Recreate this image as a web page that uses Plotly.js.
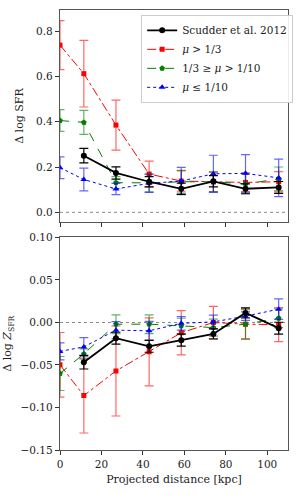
<!DOCTYPE html>
<html><head><meta charset="utf-8">
<script src="https://cdn.plot.ly/plotly-3.0.1.min.js"></script>
<style>body{margin:0;background:#fff}#c{width:300px;height:500px}</style>
</head><body><div id="c"></div>
<script>
// shared x bins (kpc)
const xBins = [0, 11.5, 27, 43, 58.5, 74, 89.5, 105.5];
const xScudder = [11.5, 27, 43, 58.5, 74, 89.5, 105.5];

const seriesNames = ["Scudder et al. 2012", "<i>μ</i> > 1/3", "1/3 ≥ <i>μ</i> > 1/10", "<i>μ</i> ≤ 1/10"];

// top panel: Delta log SFR
const sfrScudder = [0.25, 0.174, 0.135, 0.104, 0.137, 0.104, 0.110];
const sfrScudderErr = [0.032, 0.027, 0.023, 0.025, 0.025, 0.022, 0.026];
const sfrHigh = [0.738, 0.612, 0.385, 0.169, 0.138, 0.134, 0.132, 0.135];
const sfrHighErr = [0.108, 0.147, 0.11, 0.057, 0.045, 0.042, 0.042, 0.045];
const sfrMid = [0.405, 0.397, 0.131, 0.13, 0.135, 0.135, 0.125, 0.148];
const sfrMidErr = [0.048, 0.053, 0.027, 0.04, 0.05, 0.045, 0.043, 0.052];
const sfrLow = [0.197, 0.145, 0.103, 0.128, 0.138, 0.17, 0.172, 0.152];
const sfrLowErr = [0.048, 0.05, 0.025, 0.04, 0.06, 0.082, 0.083, 0.083];

// bottom panel: Delta log Z_SFR
const zScudder = [-0.0467, -0.0185, -0.028, -0.0208, -0.0134, 0.0113, -0.0067];
const zScudderErr = [0.008, 0.007, 0.007, 0.007, 0.006, 0.006, 0.007];
const zHigh = [-0.0498, -0.086, -0.057, -0.0345, -0.012, 0.0, -0.002, -0.0025];
const zHighErr = [0.038, 0.044, 0.053, 0.04, 0.026, 0.019, 0.018, 0.02];
const zMid = [-0.06, -0.037, -0.002, -0.002, -0.004, -0.006, -0.002, 0.005];
const zMidErr = [0.02, 0.006, 0.011, 0.011, 0.009, 0.01, 0.017, 0.011];
const zLow = [-0.034, -0.0287, -0.009, -0.0098, -0.001, 0.0007, 0.0074, 0.0157];
const zLowErr = [0.01, 0.011, 0.01, 0.011, 0.008, 0.008, 0.005, 0.012];

const styles = [
  {color:'#000000', err:'#000000', dash:'solid', sym:'circle', lw:1.8, ms:6},
  {color:'#ff0000', err:'rgba(255,0,0,0.6)', dash:'dashdot', sym:'square', lw:1, ms:5},
  {color:'#008000', err:'rgba(0,128,0,0.6)', dash:'dash', sym:'pentagon', lw:1, ms:6},
  {color:'#0000ff', err:'rgba(0,0,255,0.6)', dash:'dot', sym:'triangle-up', lw:1, ms:6}
];

function tr(i, x, y, e, xa, ya, show){
  const s = styles[i];
  return {x:x, y:y, xaxis:xa, yaxis:ya, type:'scatter', mode:'lines+markers',
    name:seriesNames[i], showlegend:show, legendgroup:'g'+i, legendrank:i+1,
    line:{color:s.color, dash:s.dash, width:s.lw},
    marker:{color:s.color, symbol:s.sym, size:s.ms},
    error_y:{type:'data', array:e, visible:true, color:s.err, thickness:1.2, width:4.5}};
}

// colored series first, Scudder drawn last (on top)
const data = [
  tr(1, xBins, sfrHigh, sfrHighErr, 'x', 'y', true),
  tr(2, xBins, sfrMid, sfrMidErr, 'x', 'y', true),
  tr(3, xBins, sfrLow, sfrLowErr, 'x', 'y', true),
  tr(0, xScudder, sfrScudder, sfrScudderErr, 'x', 'y', true),
  tr(1, xBins, zHigh, zHighErr, 'x2', 'y2', false),
  tr(2, xBins, zMid, zMidErr, 'x2', 'y2', false),
  tr(3, xBins, zLow, zLowErr, 'x2', 'y2', false),
  tr(0, xScudder, zScudder, zScudderErr, 'x2', 'y2', false)
];

const font = {family:'"DejaVu Serif", "Liberation Serif", serif', size:10.5, color:'#222'};
const axBase = {showline:true, mirror:true, linecolor:'#555', linewidth:1.2, ticks:'outside',
  ticklen:4, tickcolor:'#333', showgrid:false, zeroline:false, tickfont:font};

const layout = {
  width:300, height:500, paper_bgcolor:'#fff', plot_bgcolor:'#fff',
  margin:{l:60, r:7, t:10, b:50},
  font:font, showlegend:true,
  legend:{x:0.356, y:0.989, xanchor:'left', yanchor:'top', bgcolor:'rgba(255,255,255,0.9)',
    bordercolor:'#ccc', borderwidth:1, font:{family:font.family, size:10.5, color:'#222'},
    tracegroupgap:0, itemwidth:30, traceorder:'normal'},
  xaxis:Object.assign({}, axBase, {domain:[0,1], anchor:'y', range:[0,110], tickvals:[0,20,40,60,80,100], showticklabels:false}),
  yaxis:Object.assign({}, axBase, {domain:[0.518,1], anchor:'x', range:[-0.043,0.893], tickvals:[0,0.2,0.4,0.6,0.8], tickformat:'.1f',
    title:{text:'Δ log SFR', font:{family:font.family, size:11, color:'#222'}, standoff:10}}),
  xaxis2:Object.assign({}, axBase, {domain:[0,1], anchor:'y2', range:[0,110], tickvals:[0,20,40,60,80,100],
    title:{text:'Projected distance [kpc]', font:{family:font.family, size:11, color:'#222'}, standoff:6}}),
  yaxis2:Object.assign({}, axBase, {domain:[0,0.483], anchor:'x2', range:[-0.15,0.10], tickvals:[-0.15,-0.10,-0.05,0,0.05,0.10],
    ticktext:['−0.15','−0.10','−0.05','0.00','0.05','0.10'],
    title:{text:'Δ log <i>Z</i><sub>SFR</sub>', font:{family:font.family, size:11, color:'#222'}, standoff:6}}),
  shapes:[
    {type:'line', xref:'x domain', yref:'y', x0:0, x1:1, y0:0, y1:0, line:{color:'#888', width:1, dash:'dot'}, layer:'below'},
    {type:'line', xref:'x2 domain', yref:'y2', x0:0, x1:1, y0:0, y1:0, line:{color:'#888', width:1, dash:'dot'}, layer:'below'}
  ]
};
Plotly.newPlot('c', data, layout, {displayModeBar:false, staticPlot:true});
</script></body></html>
